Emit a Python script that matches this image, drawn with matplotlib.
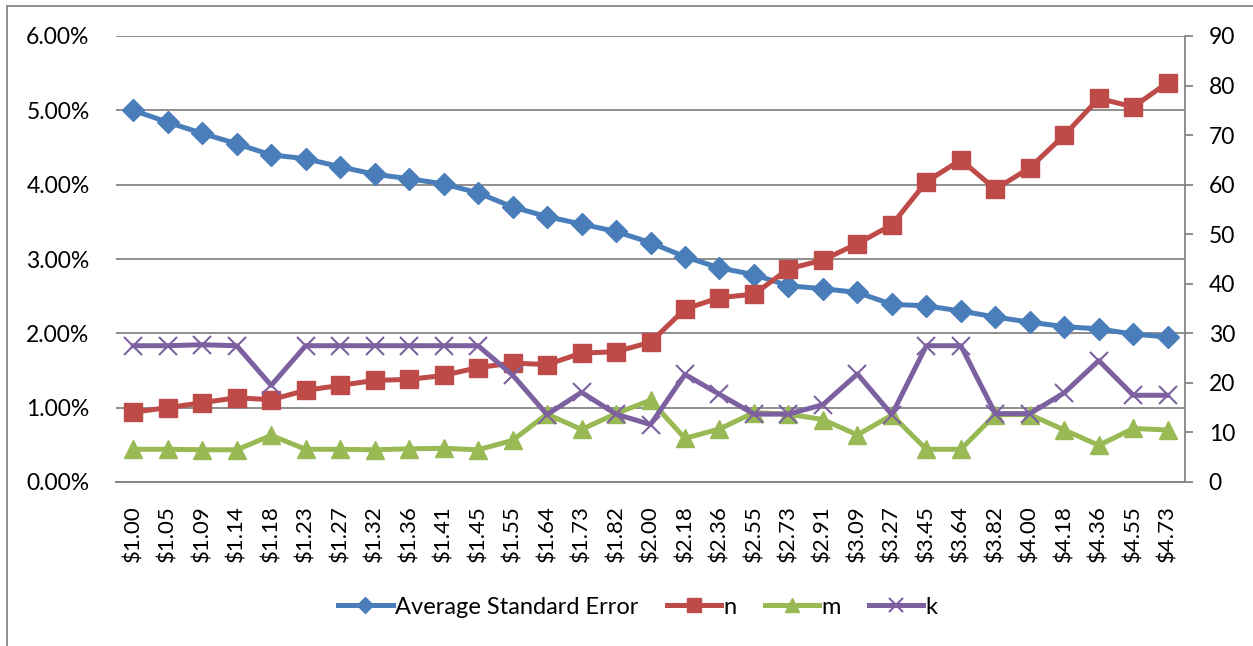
import matplotlib as mpl
mpl.use('Agg')
import matplotlib.pyplot as plt
from matplotlib.lines import Line2D
from matplotlib.ticker import FuncFormatter, MultipleLocator

plt.rcParams['font.family'] = ['Lato', 'DejaVu Sans']

# category labels (price)
prices = ['$1.00', '$1.05', '$1.09', '$1.14', '$1.18', '$1.23', '$1.27', '$1.32',
          '$1.36', '$1.41', '$1.45', '$1.55', '$1.64', '$1.73', '$1.82', '$2.00',
          '$2.18', '$2.36', '$2.55', '$2.73', '$2.91', '$3.09', '$3.27', '$3.45',
          '$3.64', '$3.82', '$4.00', '$4.18', '$4.36', '$4.55', '$4.73']

# average standard error (left axis, fraction)
avg_se = [0.0500, 0.0484, 0.0469, 0.0455, 0.0440, 0.0435, 0.0424, 0.0414,
          0.0408, 0.0401, 0.0389, 0.0370, 0.0357, 0.0347, 0.0337, 0.0322,
          0.0303, 0.0288, 0.0279, 0.0264, 0.0260, 0.0255, 0.0239, 0.0237,
          0.0230, 0.0222, 0.0215, 0.0209, 0.0206, 0.0199, 0.0195]

# n, m, k (right axis)
n_vals = [14.1, 15.0, 16.0, 17.0, 16.6, 18.5, 19.5, 20.5, 20.7, 21.5, 23.1,
          24.0, 23.7, 26.0, 26.3, 28.2, 34.9, 37.2, 37.9, 43.0, 44.8, 48.1,
          51.9, 60.6, 65.0, 59.1, 63.4, 70.0, 77.4, 75.7, 80.6]
m_vals = [6.6, 6.6, 6.5, 6.5, 9.4, 6.6, 6.6, 6.5, 6.7, 6.8, 6.5,
          8.4, 13.7, 10.6, 13.8, 16.5, 8.8, 10.7, 14.0, 13.7, 12.6, 9.5,
          13.5, 6.6, 6.6, 13.6, 13.6, 10.5, 7.4, 10.8, 10.5]
k_vals = [27.5, 27.5, 27.7, 27.5, 19.5, 27.5, 27.5, 27.5, 27.5, 27.5, 27.5,
          21.6, 13.6, 18.1, 13.7, 11.6, 21.7, 17.7, 13.7, 13.7, 15.6, 21.8,
          13.6, 27.5, 27.5, 13.8, 13.8, 18.0, 24.5, 17.5, 17.5]

blue = '#4A7EBB'
red = '#BE4B48'
green = '#98B954'
purple = '#7D60A0'
grey = '#868686'

fig = plt.figure(figsize=(12.53, 6.46), dpi=100)
ax = fig.add_axes([116 / 1253, 1 - 482 / 646, (1185 - 116) / 1253, (482 - 36) / 646])
ax2 = ax.twinx()

x = list(range(len(prices)))

ax.plot(x, avg_se, color=blue, lw=3.6, marker='D', markersize=11,
        label='Average Standard Error', zorder=3)
ax2.plot(x, n_vals, color=red, lw=3.6, marker='s', markersize=13, label='n')
ax2.plot(x, m_vals, color=green, lw=3.6, marker='^', markersize=13, label='m')
ax2.plot(x, k_vals, color=purple, lw=3.6, marker='x', markersize=13,
         markeredgewidth=1.5, label='k')

# axes limits
ax.set_xlim(-0.5, len(prices) - 0.5)
ax.set_ylim(0, 0.06)
ax2.set_ylim(0, 90)

# left axis: percent labels, no ticks, grid
ax.yaxis.set_major_locator(MultipleLocator(0.01))
ax.yaxis.set_major_formatter(FuncFormatter(lambda v, p: '%.2f%%' % (v * 100)))
ax.tick_params(axis='y', length=0, pad=19, labelsize=16.5)
ax.grid(axis='y', color=grey, lw=1.3)
ax.set_axisbelow(True)

# x axis: rotated price labels
ax.set_xticks(x)
ax.set_xticklabels(prices, rotation=90, fontsize=16)
ax.tick_params(axis='x', length=0, pad=17)

# right axis
ax2.yaxis.set_major_locator(MultipleLocator(10))
ax2.tick_params(axis='y', length=6, width=1.3, color=grey, pad=11, labelsize=16.5)

for a in (ax, ax2):
    for s in ('top', 'left', 'right'):
        a.spines[s].set_visible(False)
    a.spines['bottom'].set_color(grey)
    a.spines['bottom'].set_linewidth(1.3)
ax2.spines['right'].set_visible(True)
ax2.spines['right'].set_color(grey)
ax2.spines['right'].set_linewidth(1.3)

# legend
h1, l1 = ax.get_legend_handles_labels()
h2, l2 = ax2.get_legend_handles_labels()
fig.legend(h1 + h2, l1 + l2, loc='center', bbox_to_anchor=(638 / 1253, 1 - 607 / 646),
           ncol=4, frameon=False, fontsize=17, handlelength=2.3,
           handletextpad=0.1, columnspacing=1.2, markerscale=0.75)

# chart border (left and top edges visible)
fig.add_artist(Line2D([7 / 1253, 7 / 1253], [0, 1 - 6 / 646], color=grey, lw=1.3))
fig.add_artist(Line2D([7 / 1253, 1], [1 - 6 / 646, 1 - 6 / 646], color=grey, lw=1.3))

fig.savefig('out.png', dpi=100)
